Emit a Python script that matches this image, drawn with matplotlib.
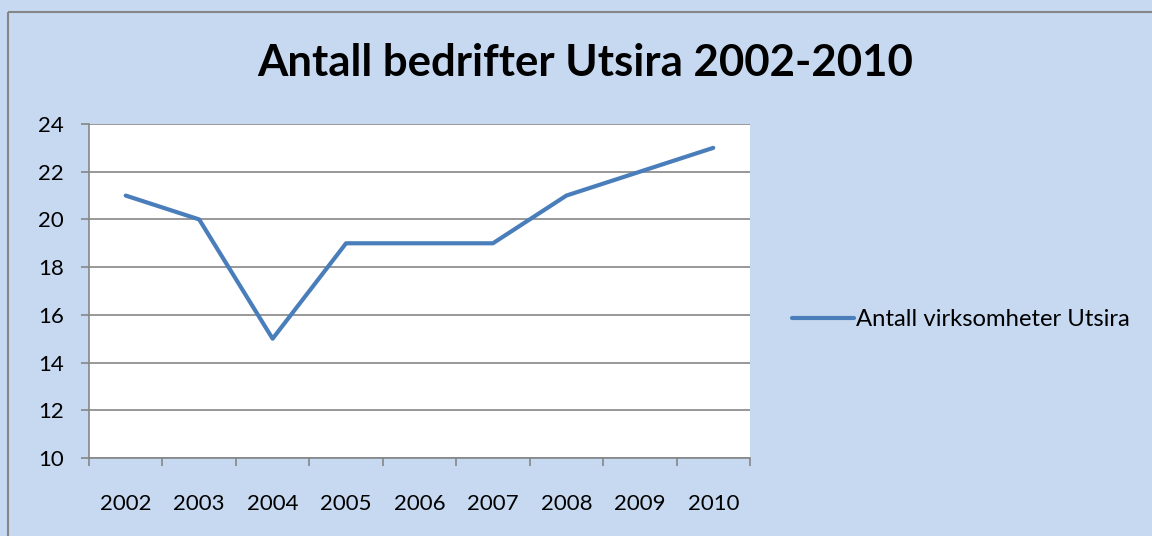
import matplotlib.pyplot as plt
from matplotlib.lines import Line2D

years = ["2002", "2003", "2004", "2005", "2006", "2007", "2008", "2009", "2010"]
antall = [21, 20, 15, 19, 19, 19, 21, 22, 23]
y_ticks = [10, 12, 14, 16, 18, 20, 22, 24]

bg = "#C6D9F1"
line_col = "#4A7EBB"
grey = "#868686"

plt.rcParams['font.family'] = ['Lato', 'DejaVu Sans']

fig = plt.figure(figsize=(11.52, 5.36), dpi=100)
fig.patch.set_facecolor(bg)

# chart border, only top and left edges are visible
bx, by = 8 / 1152, 1 - 12 / 536
fig.lines.append(Line2D([bx, 1.1], [by, by], transform=fig.transFigure,
                        color=grey, linewidth=1.5, solid_capstyle="butt"))
fig.lines.append(Line2D([bx, bx], [-0.1, by], transform=fig.transFigure,
                        color=grey, linewidth=1.5, solid_capstyle="butt"))

ax = fig.add_axes([89 / 1152, 78 / 536, 661 / 1152, 334 / 536])
ax.set_facecolor("white")

x = [i + 0.5 for i in range(len(years))]
ax.plot(x, antall, color=line_col, linewidth=3, solid_capstyle="round",
        label="Antall virksomheter Utsira")

ax.set_xlim(0, len(years))
ax.set_ylim(10, 24)
ax.set_yticks(y_ticks)
ax.set_yticklabels([str(v) for v in y_ticks], fontsize=16)
ax.set_xticks(range(len(years) + 1))
ax.set_xticklabels([])
ax.set_xticks(x, minor=True)
ax.set_xticklabels(years, minor=True, fontsize=16)
ax.tick_params(axis="x", which="minor", length=0, pad=26)
ax.tick_params(axis="x", which="major", length=6, color=grey, width=1.2)
ax.tick_params(axis="y", length=6, color=grey, width=1.2, pad=12)

ax.grid(axis="y", color=grey, linewidth=1.2)
ax.set_axisbelow(True)
for s in ["top", "right"]:
    ax.spines[s].set_visible(False)
for s in ["left", "bottom"]:
    ax.spines[s].set_color(grey)
    ax.spines[s].set_linewidth(1.2)

fig.text(585 / 1152, 1 - 63 / 536, "Antall bedrifter Utsira 2002-2010",
         fontsize=31.5, fontweight="bold", ha="center", va="center")

fig.legend(loc="center left", bbox_to_anchor=(770 / 1152, 1 - 320 / 536),
           frameon=False, fontsize=17.2, handlelength=2.6, handletextpad=0.1)

fig.savefig("out.png", dpi=100, facecolor=bg)
